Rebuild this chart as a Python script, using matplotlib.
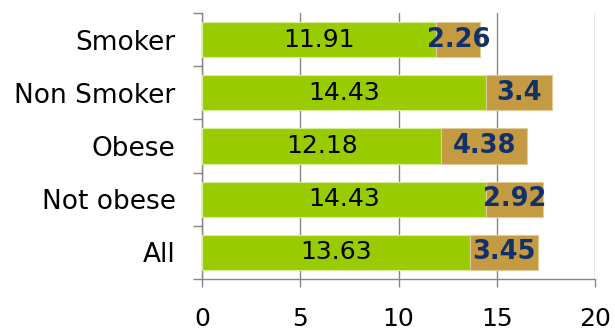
import numpy as np
import matplotlib
matplotlib.use("Agg")
import matplotlib.pyplot as plt

categories = ["Smoker", "Non Smoker", "Obese", "Not obese", "All"]
base_vals = [11.91, 14.43, 12.18, 14.43, 13.63]
extra_vals = [2.26, 3.4, 4.38, 2.92, 3.45]
x_ticks = [0, 5, 10, 15, 20]

green = "#99CC00"
tan = "#C49A42"
navy = "#12316A"
grey = "#868686"

plt.rcParams["font.family"] = ["DejaVu Sans"]

fig = plt.figure(figsize=(6.15, 3.32), dpi=100)
ax = fig.add_axes([0.3285, 0.1596, 0.639, 0.8014])

y = np.arange(len(categories))
bars1 = ax.barh(y, base_vals, height=0.66, color=green, edgecolor="#D8EE99", linewidth=0.8, zorder=3)
bars2 = ax.barh(y, extra_vals, left=base_vals, height=0.66, color=tan, edgecolor="#E0CB9A", linewidth=0.8, zorder=3)

for b, v in zip(bars1, base_vals):
    ax.text(b.get_x() + b.get_width() / 2, b.get_y() + b.get_height() / 2, f"{v:g}",
            ha="center", va="center", fontsize=18, color="black", zorder=4)
for b, v in zip(bars2, extra_vals):
    ax.text(b.get_x() + b.get_width() / 2, b.get_y() + b.get_height() / 2, f"{v:g}",
            ha="center", va="center", fontsize=18.5, fontweight="bold", color=navy, zorder=4)

ax.set_xlim(0, 20)
ax.set_ylim(len(categories) - 0.5, -0.5)
ax.set_xticks(x_ticks)
ax.set_yticks(y)
ax.set_yticklabels(categories)
ax.set_yticks(np.arange(len(categories) + 1) - 0.5, minor=True)

ax.tick_params(axis="y", which="major", length=0, pad=19, labelsize=19)
ax.tick_params(axis="y", which="minor", length=6.5, width=1, color=grey, direction="out")
ax.tick_params(axis="x", length=6, width=1, color=grey, direction="out", pad=14, labelsize=18)

ax.grid(axis="x", color=grey, linewidth=1, zorder=0)
for side in ["top", "right"]:
    ax.spines[side].set_visible(False)
for side in ["left", "bottom"]:
    ax.spines[side].set_color(grey)
    ax.spines[side].set_linewidth(1)

fig.savefig("out.png", dpi=100)
